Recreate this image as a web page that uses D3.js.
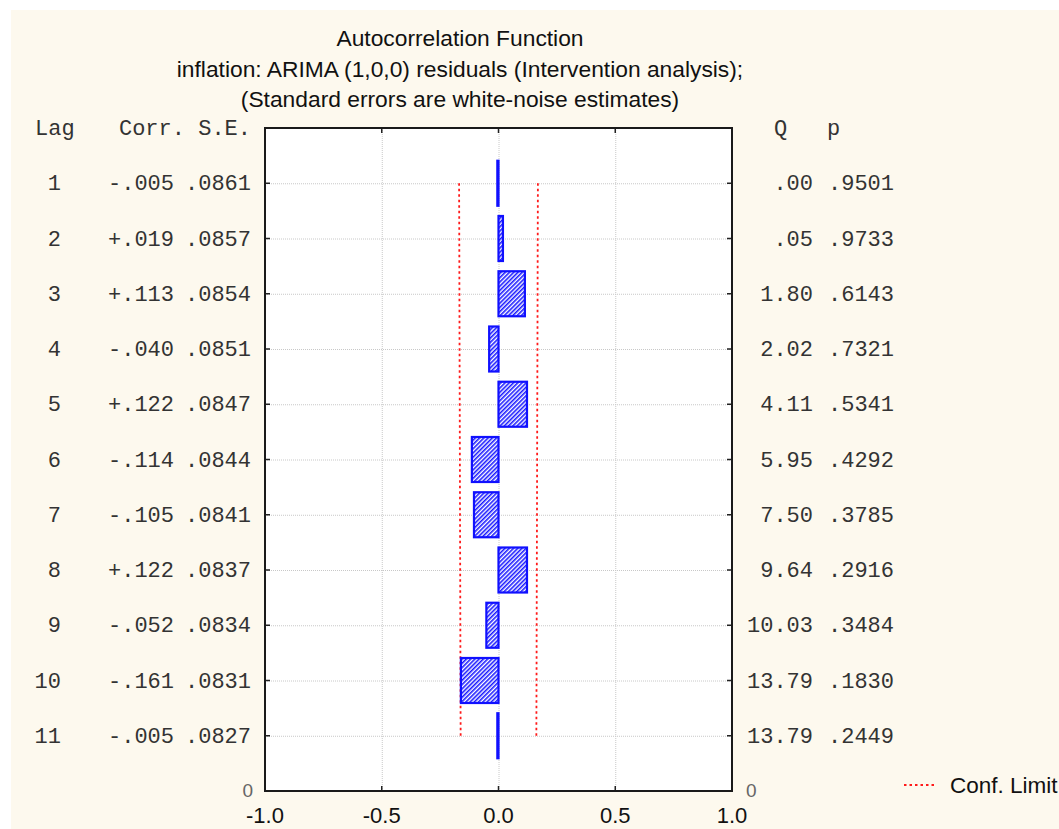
<!DOCTYPE html>
<html>
<head>
<meta charset="utf-8">
<script src="https://cdn.jsdelivr.net/npm/d3@7"></script>
<style>
  html, body { margin: 0; padding: 0; background: #ffffff; }
  svg { display: block; }
</style>
</head>
<body>
<script>
// Autocorrelation table for the ARIMA (1,0,0) residuals
const lags = [1, 2, 3, 4, 5, 6, 7, 8, 9, 10, 11];
const corr = [-0.005, 0.019, 0.113, -0.040, 0.122, -0.114, -0.105, 0.122, -0.052, -0.161, -0.005];
const stdErr = [0.0861, 0.0857, 0.0854, 0.0851, 0.0847, 0.0844, 0.0841, 0.0837, 0.0834, 0.0831, 0.0827];
const boxQ = [0.00, 0.05, 1.80, 2.02, 4.11, 5.95, 7.50, 9.64, 10.03, 13.79, 13.79];
const boxP = [0.9501, 0.9733, 0.6143, 0.7321, 0.5341, 0.4292, 0.3785, 0.2916, 0.3484, 0.1830, 0.2449];
const xTicks = [-1.0, -0.5, 0.0, 0.5, 1.0];
const titleLines = [
  "Autocorrelation Function",
  "inflation: ARIMA (1,0,0) residuals (Intervention analysis);",
  "(Standard errors are white-noise estimates)"
];

const W = 1059, H = 829;
const plot = { left: 265, right: 732, top: 128, bottom: 791 };
const zCrit = 1.96;

const svg = d3.select("body").append("svg").attr("width", W).attr("height", H);

// hatch fill for the correlation bars
const defs = svg.append("defs");
const pat = defs.append("pattern")
  .attr("id", "hatch").attr("patternUnits", "userSpaceOnUse")
  .attr("width", 3).attr("height", 3)
  .attr("patternTransform", "rotate(45)");
pat.append("rect").attr("width", 3).attr("height", 3).attr("fill", "#ffffff");
pat.append("line").attr("x1", 0.8).attr("y1", 0).attr("x2", 0.8).attr("y2", 3)
  .attr("stroke", "#1a1aff").attr("stroke-width", 1.6);

// page background
svg.append("rect").attr("x", 11).attr("y", 10).attr("width", W - 11).attr("height", H - 10)
  .attr("fill", "#fdf9ee");

const x = d3.scaleLinear().domain([-1, 1]).range([plot.left, plot.right]);
const y = d3.scaleLinear().domain([0, 12]).range([plot.top, plot.bottom]);

// plot area
svg.append("rect").attr("x", plot.left).attr("y", plot.top)
  .attr("width", plot.right - plot.left).attr("height", plot.bottom - plot.top)
  .attr("fill", "#ffffff");

// grid
const grid = svg.append("g").attr("stroke", "#c8c8c8").attr("stroke-width", 1)
  .attr("stroke-dasharray", "1,1");
grid.selectAll("line.h").data(lags).join("line").attr("class", "h")
  .attr("x1", plot.left).attr("x2", plot.right)
  .attr("y1", d => y(d) + 0.5).attr("y2", d => y(d) + 0.5);
grid.selectAll("line.v").data(xTicks.slice(1, -1)).join("line").attr("class", "v")
  .attr("x1", d => x(d) + 0.5).attr("x2", d => x(d) + 0.5)
  .attr("y1", plot.top).attr("y2", plot.bottom);

// confidence limits
const limLeft = d3.line().x((d, i) => x(-zCrit * stdErr[i])).y(d => y(d));
const limRight = d3.line().x((d, i) => x(zCrit * stdErr[i])).y(d => y(d));
[limLeft, limRight].forEach(gen => {
  svg.append("path").datum(lags).attr("d", gen)
    .attr("fill", "none").attr("stroke", "#ff1a1a").attr("stroke-width", 1.8)
    .attr("stroke-dasharray", "2.5,3");
});

// correlation bars
const barHalf = 22.5;
svg.append("g").selectAll("rect").data(lags).join("rect")
  .attr("x", (d, i) => Math.min(x(0), x(corr[i])))
  .attr("width", (d, i) => Math.abs(x(corr[i]) - x(0)))
  .attr("y", d => y(d) - barHalf)
  .attr("height", barHalf * 2)
  .attr("fill", "url(#hatch)")
  .attr("stroke", "#1010ff").attr("stroke-width", 2.2);

// ticks (inward) and frame
const tickG = svg.append("g").attr("stroke", "#222").attr("stroke-width", 1.5);
lags.forEach(d => {
  tickG.append("line").attr("x1", plot.left).attr("x2", plot.left + 5).attr("y1", y(d)).attr("y2", y(d));
  tickG.append("line").attr("x1", plot.right - 5).attr("x2", plot.right).attr("y1", y(d)).attr("y2", y(d));
});
xTicks.forEach(d => {
  tickG.append("line").attr("x1", x(d)).attr("x2", x(d)).attr("y1", plot.bottom - 5).attr("y2", plot.bottom);
  tickG.append("line").attr("x1", x(d)).attr("x2", x(d)).attr("y1", plot.top).attr("y2", plot.top + 5);
});
svg.append("rect").attr("x", plot.left).attr("y", plot.top)
  .attr("width", plot.right - plot.left).attr("height", plot.bottom - plot.top)
  .attr("fill", "none").attr("stroke", "#1a1a1a").attr("stroke-width", 2);

// x axis labels
svg.append("g").selectAll("text").data(xTicks).join("text")
  .attr("x", d => x(d)).attr("y", 823)
  .attr("text-anchor", "middle")
  .attr("font-family", "Liberation Sans, Arial, sans-serif").attr("font-size", 22)
  .attr("fill", "#111")
  .text(d => d3.format(".1f")(d).replace("−", "-"));

// lag-axis zero labels
const zeroStyle = t => t.attr("font-family", "Liberation Sans, Arial, sans-serif")
  .attr("font-size", 19).attr("fill", "#666").attr("y", 797).text("0");
svg.append("text").attr("x", 253).attr("text-anchor", "end").call(zeroStyle);
svg.append("text").attr("x", 746).attr("text-anchor", "start").call(zeroStyle);

// title
svg.append("g").selectAll("text").data(titleLines).join("text")
  .attr("x", 460).attr("y", (d, i) => 46 + i * 30.5)
  .attr("text-anchor", "middle")
  .attr("font-family", "Liberation Sans, Arial, sans-serif").attr("font-size", 22.8)
  .attr("fill", "#111")
  .text(d => d);

// table columns
const mono = t => t.attr("font-family", "Liberation Mono, Courier New, monospace")
  .attr("font-size", 22).attr("fill", "#333");
const noLead = s => s.replace(/^([+-]?)0\./, "$1.");
const fmtCorr = v => noLead(d3.format("+.3f")(v).replace("−", "-"));
const fmtSE = v => noLead(d3.format(".4f")(v));
const fmtQ = v => noLead(d3.format(".2f")(v));
const fmtP = v => noLead(d3.format(".4f")(v));

svg.append("text").attr("x", 35).attr("y", y(0) + 7).call(mono).text("Lag");
svg.append("text").attr("x", 251).attr("y", y(0) + 7).attr("text-anchor", "end").call(mono).text("Corr. S.E.");
svg.append("text").attr("x", 774).attr("y", y(0) + 7).call(mono).text("Q");
svg.append("text").attr("x", 827).attr("y", y(0) + 7).call(mono).text("p");

const rows = svg.append("g");
lags.forEach((d, i) => {
  const yy = y(d) + 7;
  rows.append("text").attr("x", 61).attr("y", yy).attr("text-anchor", "end").call(mono).text(d);
  rows.append("text").attr("x", 174).attr("y", yy).attr("text-anchor", "end").call(mono).text(fmtCorr(corr[i]));
  rows.append("text").attr("x", 251).attr("y", yy).attr("text-anchor", "end").call(mono).text(fmtSE(stdErr[i]));
  rows.append("text").attr("x", 813).attr("y", yy).attr("text-anchor", "end").call(mono).text(fmtQ(boxQ[i]));
  rows.append("text").attr("x", 894).attr("y", yy).attr("text-anchor", "end").call(mono).text(fmtP(boxP[i]));
});

// legend
svg.append("line").attr("x1", 904).attr("x2", 937).attr("y1", 785).attr("y2", 785)
  .attr("stroke", "#ff1a1a").attr("stroke-width", 1.8).attr("stroke-dasharray", "2.5,3");
svg.append("text").attr("x", 950).attr("y", 793)
  .attr("font-family", "Liberation Sans, Arial, sans-serif").attr("font-size", 22.5)
  .attr("fill", "#111").text("Conf. Limit");
</script>
</body>
</html>
